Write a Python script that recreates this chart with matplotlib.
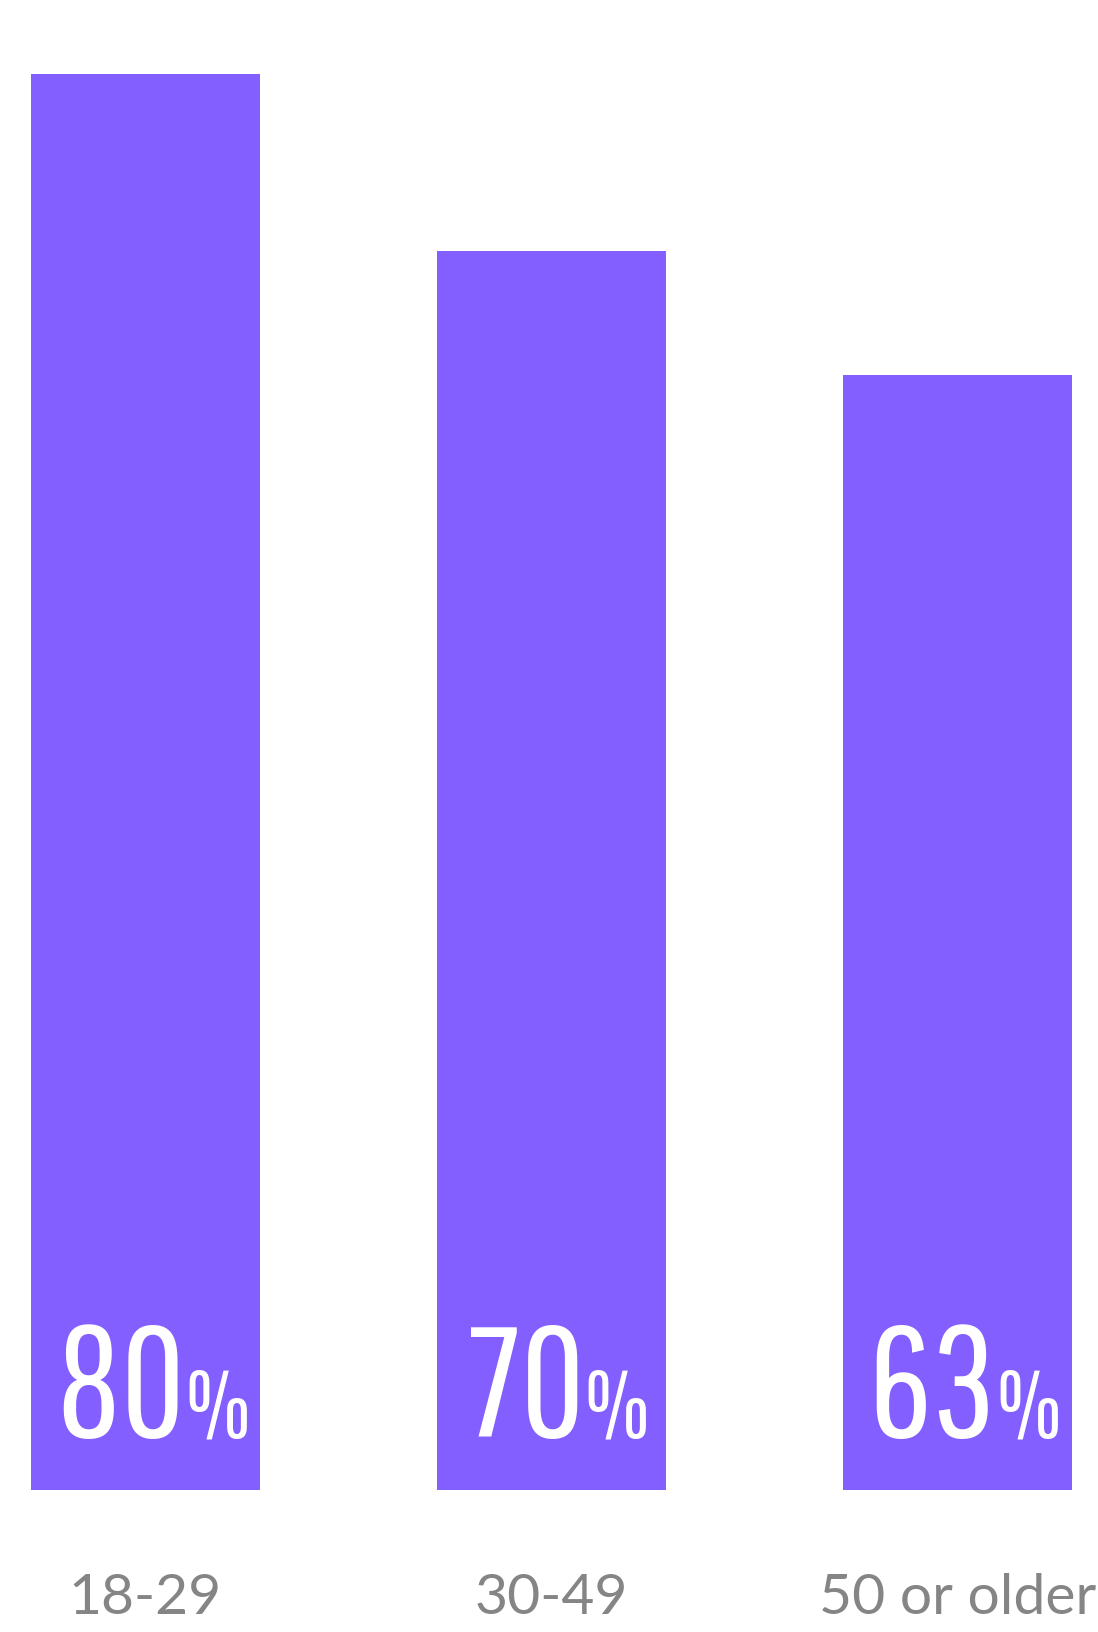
import matplotlib
matplotlib.use("Agg")
import matplotlib.pyplot as plt
from matplotlib.transforms import offset_copy

# data
groups = ["18-29", "30-49", "50 or older"]
shares = [80, 70, 63]

bar_color = "#845FFF"
label_gray = "#858585"
num_font = ["Pathway Gothic One", "Sofia Sans Extra Condensed", "Antonio", "DejaVu Sans"]
cat_font = ["Lato", "DejaVu Sans"]

fig = plt.figure(figsize=(10.98, 16.32), dpi=100)
ax = fig.add_axes([0, 142 / 1632, 1, 1416 / 1632])

x = range(len(groups))
ax.bar(x, shares, width=0.564, color=bar_color)
ax.set_xlim(-0.358, 2.346)
ax.set_ylim(0, 80)

ax.set_xticks(list(x))
ax.set_xticklabels(groups, fontsize=41, color=label_gray, family=cat_font)
ax.tick_params(axis="x", length=0, pad=60)
ax.set_yticks([])
for s in ax.spines.values():
    s.set_visible(False)

# value labels: big number + small %, centred on the bar
fig.canvas.draw()
r = fig.canvas.get_renderer()
for i, v in enumerate(shares):
    base = offset_copy(ax.transData, fig=fig, x=0, y=38, units="points")
    t1 = ax.text(i, 0, str(v), transform=base, ha="left", va="baseline",
                 color="white", fontsize=113, family=num_font)
    w1 = t1.get_window_extent(r).width
    t2 = ax.text(i, 0, "%", transform=base, ha="left", va="baseline",
                 color="white", fontsize=67, family=num_font)
    w2 = t2.get_window_extent(r).width
    dx = -(w1 + w2) / 2 * 72 / fig.dpi + 5
    t1.set_transform(offset_copy(ax.transData, fig=fig, x=dx, y=38, units="points"))
    t2.set_transform(offset_copy(ax.transData, fig=fig, x=dx + w1 * 72 / fig.dpi, y=38, units="points"))

fig.savefig("out.png", dpi=100)
